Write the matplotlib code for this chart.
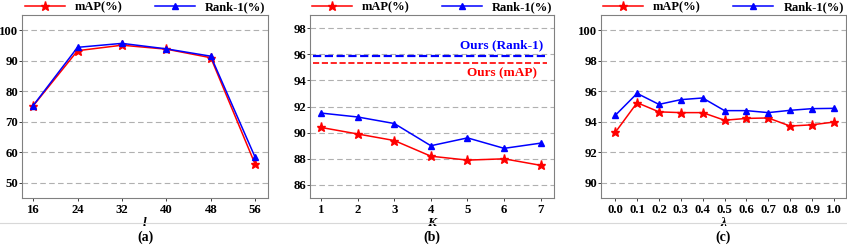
from matplotlib import pyplot as plt
from matplotlib.lines import Line2D
import numpy as np

l_vals = [16, 24, 32, 40, 48, 56]
l_map = [75.2, 93.3, 95.1, 93.8, 91.0, 56.0]
l_rank1 = [75.3, 94.4, 95.7, 93.9, 91.5, 58.3]

k_vals = [1, 2, 3, 4, 5, 6, 7]
k_map = [90.4, 89.9, 89.4, 88.2, 87.9, 88.0, 87.5]
k_rank1 = [91.5, 91.2, 90.7, 89.0, 89.6, 88.8, 89.2]
ours_map = 95.3
ours_rank1 = 95.9

lam_vals = [0.0, 0.1, 0.2, 0.3, 0.4, 0.5, 0.6, 0.7, 0.8, 0.9, 1.0]
lam_map = [93.3, 95.25, 94.65, 94.6, 94.6, 94.1, 94.22, 94.25, 93.72, 93.8, 93.98]
lam_rank1 = [94.42, 95.86, 95.14, 95.45, 95.56, 94.73, 94.73, 94.6, 94.75, 94.86, 94.88]

plt.rcParams['font.family'] = ['Liberation Serif', 'DejaVu Serif']
plt.rcParams['font.weight'] = 'bold'
plt.rcParams['font.size'] = 9

fig = plt.figure(figsize=(8.47, 2.46), dpi=100)

panels = [
    dict(rect=[0.026, 0.195, 0.2904, 0.744], x=l_vals, m=l_map, r=l_rank1,
         ylim=(45, 105), yticks=np.arange(50, 101, 10), xlim=(14, 58.3),
         xlabel='l', tag='(a)'),
    dict(rect=[0.366, 0.195, 0.288, 0.744], x=k_vals, m=k_map, r=k_rank1,
         ylim=(85, 99), yticks=np.arange(86, 99, 2), xlim=(0.7, 7.36),
         xlabel='K', tag='(b)'),
    dict(rect=[0.7096, 0.195, 0.289, 0.744], x=lam_vals, m=lam_map, r=lam_rank1,
         ylim=(89, 101), yticks=np.arange(90, 101, 2), xlim=(-0.065, 1.055),
         xlabel='λ', tag='(c)'),
]

for i, p in enumerate(panels):
    ax = fig.add_axes(p['rect'])
    ax.plot(p['x'], p['m'], color='red', marker='*', markersize=6.5,
            linewidth=1.1, label='mAP(%)', zorder=3)
    ax.plot(p['x'], p['r'], color='blue', marker='^', markersize=5,
            linewidth=1.1, label='Rank-1(%)', zorder=4)
    if i == 1:
        ax.plot([0.77, 7.16], [ours_rank1, ours_rank1], color='blue',
                linestyle='--', linewidth=1.6, zorder=2)
        ax.plot([0.77, 7.16], [ours_map, ours_map], color='red',
                linestyle='--', linewidth=1.2, zorder=2)
        ax.text(5.93, 96.2, 'Ours (Rank-1)', color='blue', ha='center',
                va='bottom', fontsize=9.5, fontweight='bold')
        ax.text(5.93, 95.0, 'Ours (mAP)', color='red', ha='center',
                va='top', fontsize=9.5, fontweight='bold')
    ax.set_xlim(*p['xlim'])
    ax.set_ylim(*p['ylim'])
    ax.set_xticks(p['x'])
    if i == 2:
        ax.set_xticklabels(['%.1f' % v for v in p['x']])
    ax.set_yticks(p['yticks'])
    ax.grid(axis='y', color='#b0b0b0', linestyle=(0, (5, 3)), linewidth=0.8)
    ax.set_axisbelow(True)
    for s in ax.spines.values():
        s.set_color('#808080')
        s.set_linewidth(0.8)
    ax.tick_params(length=2, width=0.7, color='#404040', labelsize=9.2)
    ax.tick_params(axis='y', pad=0.8)
    ax.tick_params(axis='x', pad=2.5)
    ax.set_xlabel(p['xlabel'], fontstyle='italic', fontweight='bold',
                  labelpad=0.5, fontsize=9.5)
    ax.legend(loc='lower center', bbox_to_anchor=(0.5, 1.0), ncol=2,
              frameon=False, fontsize=9, columnspacing=2.6,
              handlelength=3.2, borderaxespad=0, handletextpad=0.8,
              borderpad=0.1)
    cx = p['rect'][0] + p['rect'][2] / 2
    fig.text(cx, 0.035, p['tag'], ha='center', va='center', fontsize=10,
             fontweight='bold')

fig.add_artist(Line2D([0, 1], [0.093, 0.093], color='#d8d8d8', linewidth=0.8))

fig.savefig('out.png', dpi=100)
